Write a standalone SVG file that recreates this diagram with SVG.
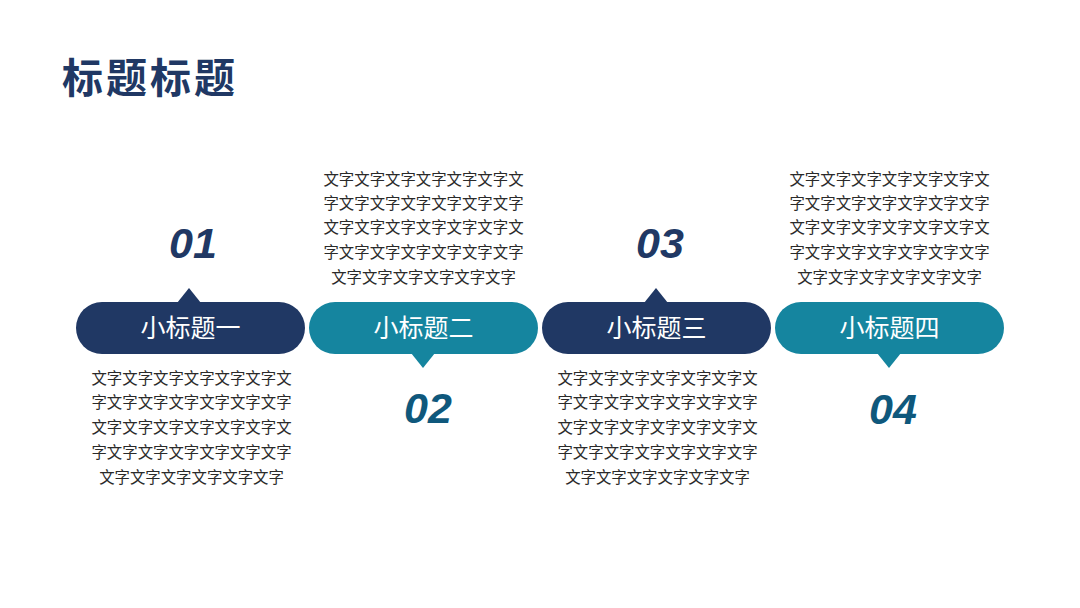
<svg xmlns="http://www.w3.org/2000/svg" width="1080" height="608" viewBox="0 0 1080 608">
<style>
.title{font-family:"Noto Sans CJK SC","Noto Sans",sans-serif;font-weight:700;font-size:41px;letter-spacing:3px;fill:#203864}
.pt{font-family:"Noto Sans CJK SC",sans-serif;font-size:25px;fill:#fff;text-anchor:middle}
.body{font-family:"Noto Sans CJK SC",sans-serif;font-size:15.4px;fill:#2a2a2a;text-anchor:middle}
.num{font-family:"Liberation Sans",Arial,sans-serif;font-weight:700;font-style:italic;font-size:43px;text-anchor:middle}
.navy{fill:#203864}
.teal{fill:#15859f}
.n2{fill:#0f587c}
</style>
<rect width="1080" height="608" fill="#fff"/>
<text class="title" x="62" y="93">标题标题</text>
<g id="node1">
<rect class="navy" x="76" y="302" width="229" height="52" rx="26"/>
<polygon class="navy" points="177,303 189,288 201,303"/>
<text class="pt" x="190.5" y="337">小标题一</text>
<text class="num navy" x="193" y="258">01</text>
<g class="body"><text x="191.5" y="384">文字文字文字文字文字文字文</text><text x="191.5" y="408">字文字文字文字文字文字文字</text><text x="191.5" y="433">文字文字文字文字文字文字文</text><text x="191.5" y="458">字文字文字文字文字文字文字</text><text x="191.5" y="483">文字文字文字文字文字文字</text></g>
</g>
<g id="node2">
<rect class="teal" x="309" y="302" width="229" height="52" rx="26"/>
<polygon class="teal" points="411,353 423,368 435,353"/>
<text class="pt" x="423.5" y="337">小标题二</text>
<text class="num n2" x="428" y="423">02</text>
<g class="body"><text x="423.5" y="185">文字文字文字文字文字文字文</text><text x="423.5" y="209">字文字文字文字文字文字文字</text><text x="423.5" y="233">文字文字文字文字文字文字文</text><text x="423.5" y="258">字文字文字文字文字文字文字</text><text x="423.5" y="283">文字文字文字文字文字文字</text></g>
</g>
<g id="node3">
<rect class="navy" x="542" y="302" width="229" height="52" rx="26"/>
<polygon class="navy" points="644,303 656,288 668,303"/>
<text class="pt" x="656.5" y="337">小标题三</text>
<text class="num navy" x="660" y="258">03</text>
<g class="body"><text x="657.5" y="384">文字文字文字文字文字文字文</text><text x="657.5" y="408">字文字文字文字文字文字文字</text><text x="657.5" y="433">文字文字文字文字文字文字文</text><text x="657.5" y="458">字文字文字文字文字文字文字</text><text x="657.5" y="483">文字文字文字文字文字文字</text></g>
</g>
<g id="node4">
<rect class="teal" x="775" y="302" width="229" height="52" rx="26"/>
<polygon class="teal" points="877,353 889,368 901,353"/>
<text class="pt" x="889.5" y="337">小标题四</text>
<text class="num n2" x="893" y="424">04</text>
<g class="body"><text x="889.5" y="185">文字文字文字文字文字文字文</text><text x="889.5" y="209">字文字文字文字文字文字文字</text><text x="889.5" y="233">文字文字文字文字文字文字文</text><text x="889.5" y="258">字文字文字文字文字文字文字</text><text x="889.5" y="283">文字文字文字文字文字文字</text></g>
</g>
<g id="connectors"></g>
</svg>
